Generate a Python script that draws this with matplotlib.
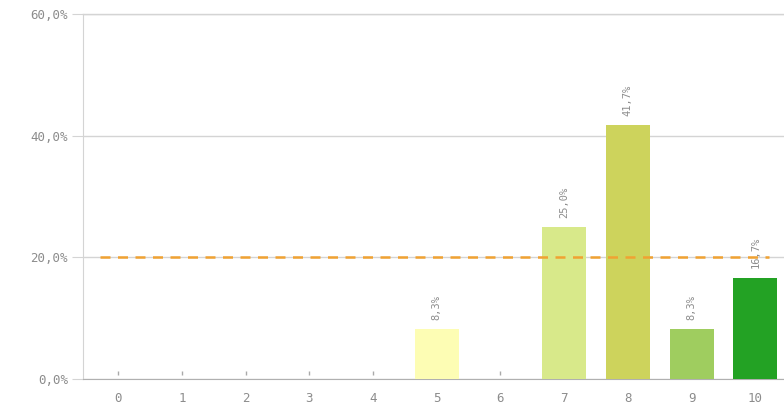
import numpy as np
import matplotlib.pyplot as plt
from matplotlib.ticker import FuncFormatter

categories = list(range(11))
shares = [0, 0, 0, 0, 0, 8.3, 0, 25.0, 41.7, 8.3, 16.7]
bar_colors = ['#fdfdb4', '#fdfdb4', '#fdfdb4', '#fdfdb4', '#fdfdb4', '#fdfdb4',
              '#e6f0a0', '#d8e98a', '#cdd35c', '#9fcd5f', '#23a224']
reference_level = 20.0
y_ticks = [0, 20, 40, 60]

fig = plt.figure(figsize=(7.84, 4.13), dpi=100)
ax = fig.add_axes([0.106, 0.082, 0.894, 0.884])

x = np.array(categories)
vals = np.array(shares)
nonzero = vals > 0
ax.bar(x[nonzero], vals[nonzero], width=0.69,
       color=[c for c, n in zip(bar_colors, nonzero) if n], zorder=3)

# tiny marks for empty categories
ax.plot(x[~nonzero], np.full((~nonzero).sum(), 1.0), linestyle='none',
        marker='|', markersize=3, color='#aaaaaa', zorder=3)

# value labels
for xi, v in zip(x[nonzero], vals[nonzero]):
    ax.text(xi, v + 1.5, f"{v:.1f}%".replace('.', ','), rotation=90,
            ha='center', va='bottom', fontsize=7.5, color='#8c8c8c',
            family='DejaVu Sans Mono', zorder=4)

# reference line
ax.plot([-0.28, 10.22], [reference_level, reference_level], linestyle=(0, (4, 3)),
        color='#f0a232', linewidth=1.8, zorder=4)

ax.set_xlim(-0.55, 10.45)
ax.set_ylim(0, 60)
ax.set_yticks(y_ticks)
ax.yaxis.set_major_formatter(FuncFormatter(lambda v, p: f"{v:.1f}%".replace('.', ',')))
ax.set_xticks(categories)
ax.set_xticklabels([str(c) for c in categories])

ax.grid(axis='y', color='#d4d4d4', linewidth=1, zorder=0)
for s in ['top', 'right']:
    ax.spines[s].set_visible(False)
ax.spines['left'].set_color('#d4d4d4')
ax.spines['bottom'].set_color('#b0b0b0')
ax.tick_params(axis='y', length=8, color='#d4d4d4', labelcolor='#8c8c8c',
               labelsize=9, pad=3)
ax.tick_params(axis='x', length=0, labelcolor='#8c8c8c', labelsize=9, pad=9)
for lab in ax.get_xticklabels() + ax.get_yticklabels():
    lab.set_family('DejaVu Sans Mono')

# top gridline across full width
ax.axhline(60, color='#d4d4d4', linewidth=1, clip_on=False, zorder=0)

fig.savefig('out.png', dpi=100)
